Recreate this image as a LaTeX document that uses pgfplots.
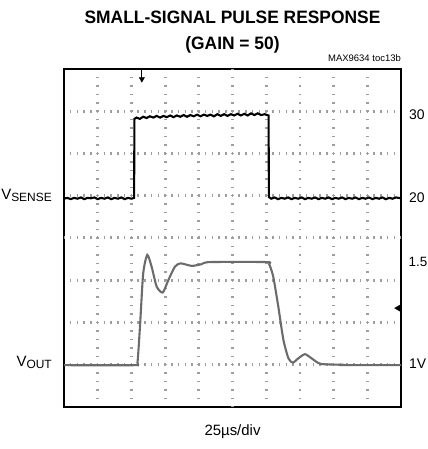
\documentclass[border=0pt]{standalone}
\usepackage{pgfplots}
\pgfplotsset{compat=1.18}
\usepackage{fontspec}
\setmainfont{Liberation Sans}
\newfontfamily\titlefont{Liberation Sans}[FakeStretch=0.97]

\begin{document}
\begin{tikzpicture}[x=1bp,y=1bp]
\useasboundingbox (0,0) rectangle (427,449);
\begin{axis}[
  at={(64bp,42bp)}, anchor=south west,
  scale only axis, width=337bp, height=338bp,
  xmin=0, xmax=10, ymin=0, ymax=8,
  xtick={1,2,3,4,6,7,8,9}, ytick={1,2,3,5,6,7},
  xticklabels={}, yticklabels={},
  major tick length=0pt,
  minor x tick num=4, minor y tick num=4,
  minor tick length=3bp,
  minor tick style={black!40, line width=1bp},
  xmajorgrids, ymajorgrids,
  x grid style={black!38, line width=2.8bp, dash pattern=on 1.5bp off 6.95bp, dash phase=0.75bp},
  y grid style={black!38, line width=3bp, dash pattern=on 1.5bp off 5.24bp, dash phase=0.75bp},
  extra x ticks={5}, extra y ticks={4},
  extra x tick labels={}, extra y tick labels={},
  extra x tick style={grid=major, major grid style={black!50, line width=3.6bp, dash pattern=on 1.6bp off 6.85bp, dash phase=0.8bp}},
  extra y tick style={grid=major, major grid style={black!50, line width=3.6bp, dash pattern=on 1.6bp off 5.14bp, dash phase=0.8bp}},
  axis line style={line width=2.4bp},
  clip=true,
]
% VSENSE
\addplot[black, line width=2.1bp] coordinates {
(0,4.93)(0.1,4.95)(0.2,4.92)(0.3,4.95)(0.4,4.93)(0.5,4.96)(0.6,4.92)(0.7,4.95)(0.8,4.94)(0.9,4.96)
(1.0,4.92)(1.1,4.95)(1.2,4.93)(1.3,4.96)(1.4,4.92)(1.5,4.95)(1.6,4.93)(1.7,4.96)(1.8,4.92)(1.9,4.95)
(2.0,4.93)(2.08,4.95)(2.09,6.82)(2.15,6.85)(2.25,6.82)(2.35,6.87)(2.45,6.84)(2.55,6.88)(2.65,6.85)
(2.75,6.89)(2.85,6.85)(2.95,6.89)(3.05,6.86)(3.15,6.9)(3.25,6.86)(3.35,6.9)(3.45,6.87)(3.55,6.91)
(3.65,6.87)(3.75,6.91)(3.85,6.88)(3.95,6.92)(4.05,6.88)(4.15,6.92)(4.25,6.89)(4.35,6.92)(4.45,6.88)
(4.55,6.93)(4.65,6.89)(4.75,6.93)(4.85,6.89)(4.95,6.93)(5.05,6.9)(5.15,6.94)(5.25,6.9)(5.35,6.94)
(5.45,6.9)(5.55,6.95)(5.65,6.91)(5.75,6.95)(5.85,6.91)(5.95,6.93)(6.07,6.9)(6.08,4.97)(6.15,4.93)
(6.25,4.96)(6.35,4.92)(6.45,4.95)(6.55,4.93)(6.65,4.96)(6.75,4.92)(6.85,4.95)(6.95,4.93)(7.05,4.96)
(7.15,4.92)(7.25,4.95)(7.35,4.93)(7.45,4.96)(7.55,4.92)(7.65,4.95)(7.75,4.93)(7.85,4.96)(7.95,4.92)
(8.05,4.95)(8.15,4.93)(8.25,4.96)(8.35,4.92)(8.45,4.95)(8.55,4.93)(8.65,4.96)(8.75,4.92)(8.85,4.95)
(8.95,4.93)(9.05,4.96)(9.15,4.92)(9.25,4.95)(9.35,4.93)(9.45,4.96)(9.55,4.92)(9.65,4.95)(9.75,4.93)
(9.85,4.96)(10,4.94)
};
% VOUT
\addplot[black!58, line width=2.1bp, smooth, tension=0.4] coordinates {
(0,0.99)(2.1,0.99)(2.18,1.05)(2.26,1.98)(2.35,3.16)(2.47,3.6)(2.6,3.32)(2.75,2.85)
(2.93,2.71)(3.10,3.01)(3.29,3.32)(3.46,3.40)(3.79,3.34)(4.08,3.38)(4.33,3.43)
(6.01,3.43)(6.09,3.38)(6.21,3.08)(6.36,2.37)(6.51,1.59)(6.66,1.15)(6.79,1.05)
(6.95,1.15)(7.15,1.25)(7.35,1.15)(7.62,1.02)(8.29,1.0)(8.35,0.99)(10,0.99)
};
% trigger marker
\addplot[black, line width=0.9bp] coordinates {(2.31,8)(2.31,7.72)};
\addplot[only marks, mark=triangle*, mark size=3bp, mark options={rotate=180, fill=black}] coordinates {(2.31,7.76)};
% channel level marker
\addplot[only marks, mark=triangle*, mark size=4bp, mark options={rotate=90, fill=black}] coordinates {(9.93,2.34)};
\end{axis}
% Titles and labels
\node[font=\titlefont\bfseries\fontsize{18}{21}\selectfont, anchor=center] at (232.5,432) {SMALL-SIGNAL PULSE RESPONSE};
\node[font=\titlefont\bfseries\fontsize{18}{21}\selectfont, anchor=center] at (232.5,404) {(GAIN = 50)};
\node[font=\fontsize{9.5}{11}\selectfont, anchor=base east, inner sep=0] at (401,387) {MAX9634 toc13b};
\node[font=\fontsize{15}{18}\selectfont, anchor=center] at (232.5,17) {25µs/div};
\node[anchor=base east, inner sep=0, font=\fontsize{15}{18}\selectfont] at (52,249) {V\raisebox{-2bp}{\fontsize{12}{14}\selectfont SENSE}};
\node[anchor=base east, inner sep=0, font=\fontsize{15}{18}\selectfont] at (52,82) {V\raisebox{-2bp}{\fontsize{12}{14}\selectfont OUT}};
\node[anchor=west, inner sep=0, font=\fontsize{14}{17}\selectfont] at (409,334) {30};
\node[anchor=west, inner sep=0, font=\fontsize{14}{17}\selectfont] at (409,251) {20};
\node[anchor=west, inner sep=0, font=\fontsize{13.5}{17}\selectfont] at (408.5,187) {1.5};
\node[anchor=west, inner sep=0, font=\fontsize{14}{17}\selectfont] at (409,85) {1V};
\end{tikzpicture}
\end{document}
